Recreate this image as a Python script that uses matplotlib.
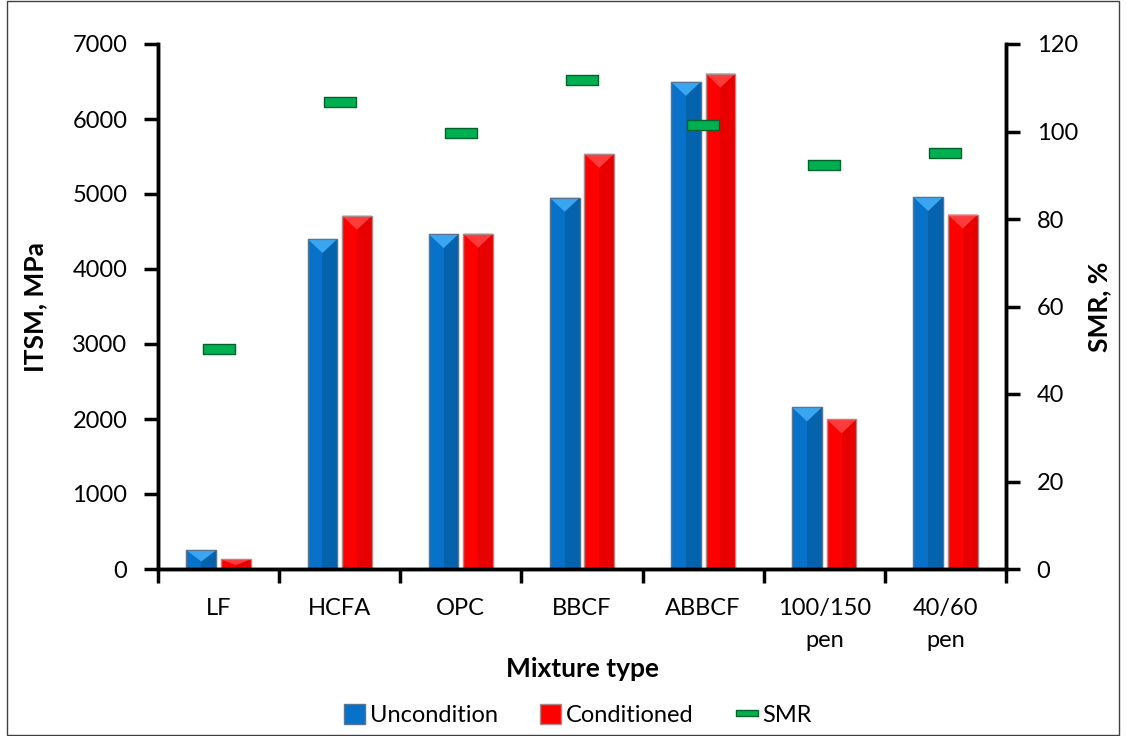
import matplotlib.pyplot as plt
import numpy as np
from matplotlib.patches import Patch, Polygon, Rectangle
from matplotlib.lines import Line2D
from matplotlib.path import Path

mixtures = ["LF", "HCFA", "OPC", "BBCF", "ABBCF", "100/150\npen", "40/60\npen"]
itsm_uncond = [250, 4400, 4465, 4950, 6495, 2155, 4960]
itsm_cond = [130, 4710, 4470, 5535, 6605, 1995, 4725]
smr = [50.4, 106.7, 99.7, 111.8, 101.6, 92.3, 95.2]

plt.rcParams['font.family'] = ['Lato', 'DejaVu Sans']

blue = "#0872CA"
blue_dark = "#0562AC"
blue_top = "#3AA6F2"
red = "#FF0000"
red_dark = "#E80000"
red_top = "#FF3A3A"

fig = plt.figure(figsize=(11.26, 7.36), dpi=100)
ax = fig.add_axes([158 / 1126, 1 - 569 / 736, 848 / 1126, 525 / 736])
ax2 = ax.twinx()

x = np.arange(len(mixtures))
w = 0.245
off = 0.1425

ax.set_xlim(-0.5, len(mixtures) - 0.5)
ax.set_ylim(0, 7000)
ax2.set_ylim(0, 120)

# depth of the bevel triangle, about 14 px, in data units
px_per_unit = 525 / 7000
tri = 14 / px_per_unit


def bevel_bars(xs, vals, base, dark, top, edge):
    ax.bar(xs, vals, w, color=base, edgecolor=edge, linewidth=0.9, zorder=2)
    ax.bar(xs, vals, w / 2, align='edge', color=dark, linewidth=0, zorder=2.1)
    for xc, v in zip(xs, vals):
        d = min(tri, v * 0.6)
        poly = Polygon([[xc - w / 2, v], [xc + w / 2, v], [xc, v - d]],
                       closed=True, facecolor=top, edgecolor='none', zorder=2.2)
        ax.add_patch(poly)
    ax.bar(xs, vals, w, color='none', edgecolor=edge, linewidth=0.9, zorder=2.3)


bevel_bars(x - off, itsm_uncond, blue, blue_dark, blue_top, "#5A7590")
bevel_bars(x + off, itsm_cond, red, red_dark, red_top, "#B08888")

# SMR markers: flat green rectangles
rect = Path([(-1, -0.29), (1, -0.29), (1, 0.29), (-1, 0.29), (-1, -0.29)],
            [Path.MOVETO, Path.LINETO, Path.LINETO, Path.LINETO, Path.CLOSEPOLY])
ax2.plot(x, smr, linestyle='none', marker=rect, markersize=22.5,
         markerfacecolor="#00B050", markeredgecolor="#00632C", markeredgewidth=1.0,
         zorder=4)

# axes styling
for a in (ax, ax2):
    a.spines['top'].set_visible(False)
    for s in ('left', 'right', 'bottom'):
        a.spines[s].set_linewidth(2.5)
        a.spines[s].set_color('black')

ax.set_yticks(np.arange(0, 7001, 1000))
ax.tick_params(axis='y', direction='out', length=10, width=2.5, labelsize=17, pad=12)
ax2.set_yticks(np.arange(0, 121, 20))
ax2.tick_params(axis='y', direction='out', length=10, width=2.5, labelsize=17, pad=12)

ax.set_xticks(x)
ax.set_xticklabels(mixtures, fontsize=17, linespacing=1.65)
ax.set_xticks(np.arange(-0.5, len(mixtures), 1.0), minor=True)
ax.tick_params(axis='x', which='major', length=0, pad=21)
ax.tick_params(axis='x', which='minor', direction='out', length=10, width=2.5)

ax.set_ylabel("ITSM, MPa", fontsize=19, fontweight='bold', labelpad=18)
ax2.set_ylabel("SMR, %", fontsize=19, fontweight='bold', labelpad=7)
ax.set_xlabel("Mixture type", fontsize=19, fontweight='bold', labelpad=4)

handles = [
    Patch(facecolor=blue, edgecolor="#5A7590", label="Uncondition"),
    Patch(facecolor=red, edgecolor="#B08888", label="Conditioned"),
    Line2D([], [], linestyle='none', marker=rect, markersize=16,
           markerfacecolor="#00B050", markeredgecolor="#00632C", label="SMR"),
]
fig.legend(handles=handles, loc='center', bbox_to_anchor=(0.513, 1 - 715 / 736),
           ncol=3, frameon=False, fontsize=17, handlelength=0.9, handleheight=0.9,
           handletextpad=0.2, columnspacing=1.8)

# outer chart border
fig.patches.append(Rectangle((7 / 1126, 0.001), 1112 / 1126, 0.997,
                             transform=fig.transFigure, fill=False,
                             edgecolor='#404040', linewidth=1.0))

fig.savefig("out.png", dpi=100)
